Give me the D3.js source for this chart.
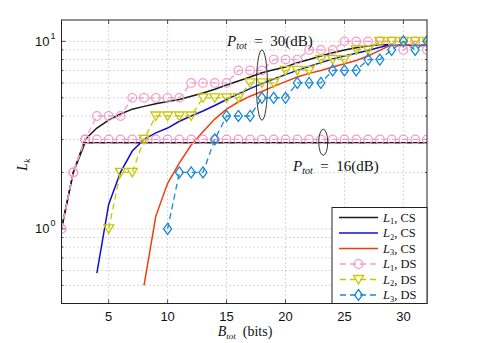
<!DOCTYPE html>
<html>
<head>
<meta charset="utf-8">
<script src="https://cdn.jsdelivr.net/npm/d3@7"></script>
<style>
  body { margin: 0; background: #fff; }
  svg { display: block; }
</style>
</head>
<body>
<div id="chart"></div>
<script>
// bits axis
const bits = [1, 2, 3, 4, 5, 6, 7, 8, 9, 10, 11, 12, 13, 14, 15, 16,
              17, 18, 19, 20, 21, 22, 23, 24, 25, 26, 27, 28, 29, 30, 31, 32];

// P_tot = 16 dB
const l1cs16 = [1, 2, 2.88, 2.88, 2.88, 2.88, 2.88, 2.88, 2.88, 2.88, 2.88, 2.88, 2.88, 2.88, 2.88, 2.88,
                2.88, 2.88, 2.88, 2.88, 2.88, 2.88, 2.88, 2.88, 2.88, 2.88, 2.88, 2.88, 2.88, 2.88, 2.88, 2.88];
const l1ds16 = [1, 2, 3, 3, 3, 3, 3, 3, 3, 3, 3, 3, 3, 3, 3, 3,
                3, 3, 3, 3, 3, 3, 3, 3, 3, 3, 3, 3, 3, 3, 3, 3];

// P_tot = 30 dB, continuous solution
const l1cs30 = [1, 2, 3.0, 3.45, 3.8, 4.1, 4.35, 4.5, 4.65, 4.78, 4.9, 5.1, 5.3, 5.55, 5.85, 6.15,
                6.45, 6.8, 7.05, 7.3, 7.7, 8.0, 8.35, 8.7, 9.0, 9.25, 9.45, 9.6, 9.6, 9.6, 9.6, 9.6];
const l2cs30 = [null, null, null, 0.58, 1.35, 2.0, 2.6, 3.0, 3.25, 3.45, 3.75, 4.0, 4.25, 4.55, 4.9, 5.25,
                5.6, 5.95, 6.3, 6.65, 7.0, 7.35, 7.7, 8.05, 8.35, 8.65, 8.95, 9.3, 9.6, 9.6, 9.6, 9.6];
const l3cs30 = [null, null, null, null, null, null, null, 0.5, 1.17, 1.75, 2.25, 2.8, 3.3, 3.85, 4.35, 4.75,
                5.1, 5.4, 5.75, 6.1, 6.45, 6.75, 7.0, 7.3, 7.6, 7.9, 8.35, 8.95, 9.6, 9.6, 9.6, 9.6];

// P_tot = 30 dB, discrete solution
const l1ds30 = [1, 2, 3, 4, 4, 4, 5, 5, 5, 5, 5, 6, 6, 6, 6, 7,
                7, 7, 8, 8, 8, 9, 9, 9, 10, 10, 10, 10, 10, 9, 10, 9];
const l2ds30 = [null, null, null, null, 1, 2, 2, 3, 4, 4, 4, 4, 5, 5, 5, 5,
                6, 6, 6, 7, 7, 7, 8, 8, 8, 9, 9, 10, 10, 10, 10, 10];
const l3ds30 = [null, null, null, null, null, null, null, null, null, 1, 2, 2, 2, 3, 4, 4,
                4, 5, 5, 5, 6, 6, 6, 7, 7, 7, 8, 8, 9, 10, 9, 10];

const xTicks = [5, 10, 15, 20, 25, 30];
const yMajor = [1, 10];
const yMinor = [0.5, 0.6, 0.7, 0.8, 0.9, 2, 3, 4, 5, 6, 7, 8, 9];

const colors = {
  black: "#1a1a1a",
  blue: "#1010d0",
  red: "#f03c10",
  pink: "#f79ac8",
  yellow: "#c8c800",
  cyan: "#1a8ad4"
};

const W = 485, H = 343;
const margin = { top: 20, right: 58, bottom: 39.5, left: 61.5 };

const svg = d3.select("#chart").append("svg")
  .attr("width", W).attr("height", H)
  .style("font-family", "'Liberation Sans', Arial, sans-serif");

const x = d3.scaleLinear().domain([1, 32]).range([margin.left, W - margin.right]);
const y = d3.scaleLog().domain([0.4, 13]).range([H - margin.bottom, margin.top]);

const x0 = x.range()[0], x1 = x.range()[1];
const y0 = y.range()[0], y1 = y.range()[1];

// grid
const grid = svg.append("g")
  .attr("stroke", "#9a9a9a").attr("stroke-width", 0.8)
  .attr("stroke-dasharray", "1,3");
xTicks.forEach(t => grid.append("line")
  .attr("x1", x(t)).attr("x2", x(t)).attr("y1", y0).attr("y2", y1));
yMajor.concat(yMinor).forEach(t => grid.append("line")
  .attr("x1", x0).attr("x2", x1).attr("y1", y(t)).attr("y2", y(t)));

// ticks inside the box
const ticks = svg.append("g").attr("stroke", "#222").attr("stroke-width", 0.8);
xTicks.forEach(t => {
  ticks.append("line").attr("x1", x(t)).attr("x2", x(t)).attr("y1", y0).attr("y2", y0 - 4);
  ticks.append("line").attr("x1", x(t)).attr("x2", x(t)).attr("y1", y1).attr("y2", y1 + 4);
});
yMajor.forEach(t => {
  ticks.append("line").attr("x1", x0).attr("x2", x0 + 4).attr("y1", y(t)).attr("y2", y(t));
  ticks.append("line").attr("x1", x1).attr("x2", x1 - 4).attr("y1", y(t)).attr("y2", y(t));
});
yMinor.forEach(t => {
  ticks.append("line").attr("x1", x0).attr("x2", x0 + 2).attr("y1", y(t)).attr("y2", y(t));
  ticks.append("line").attr("x1", x1).attr("x2", x1 - 2).attr("y1", y(t)).attr("y2", y(t));
});

// tick labels
svg.append("g").selectAll("text").data(xTicks).join("text")
  .attr("x", d => x(d)).attr("y", y0 + 17)
  .attr("text-anchor", "middle").attr("font-size", 13).attr("fill", "#111")
  .text(d => d);

yMajor.forEach(t => {
  svg.append("text")
    .attr("x", 49.5).attr("y", y(t) + 4.5)
    .attr("text-anchor", "end").attr("font-size", 13).attr("fill", "#111")
    .text("10");
  svg.append("text")
    .attr("x", 50.5).attr("y", y(t) - 2.5)
    .attr("font-size", 9).attr("fill", "#111")
    .text(Math.round(Math.log10(t)));
});

// clip for the curves
svg.append("clipPath").attr("id", "plotclip").append("rect")
  .attr("x", x0).attr("y", y1).attr("width", x1 - x0).attr("height", y0 - y1);

const plot = svg.append("g").attr("clip-path", "url(#plotclip)");

const line = d3.line()
  .defined(d => d[1] != null)
  .x(d => x(d[0])).y(d => y(d[1]));

function pts(vals) { return bits.map((b, i) => [b, vals[i]]); }

function drawCS(vals, color) {
  plot.append("path").datum(pts(vals))
    .attr("fill", "none").attr("stroke", color).attr("stroke-width", 1.5)
    .attr("d", line);
}

function marker(g, shape, color, cx, cy) {
  if (shape === "circle") {
    g.append("circle").attr("cx", cx).attr("cy", cy).attr("r", 4.3)
      .attr("fill", "none").attr("stroke", color).attr("stroke-width", 1.2);
  } else if (shape === "tri") {
    g.append("path")
      .attr("d", `M${cx - 5},${cy - 4} L${cx + 5},${cy - 4} L${cx},${cy + 4.5} Z`)
      .attr("fill", "none").attr("stroke", color).attr("stroke-width", 1.3);
  } else {
    g.append("path")
      .attr("d", `M${cx},${cy - 5.5} L${cx + 4},${cy} L${cx},${cy + 5.5} L${cx - 4},${cy} Z`)
      .attr("fill", "none").attr("stroke", color).attr("stroke-width", 1.3);
  }
}

function drawDS(vals, color, shape) {
  const p = pts(vals);
  plot.append("path").datum(p)
    .attr("fill", "none").attr("stroke", color).attr("stroke-width", 1.3)
    .attr("stroke-dasharray", "6,4")
    .attr("d", line);
  const g = plot.append("g");
  p.filter(d => d[1] != null).forEach(d => marker(g, shape, color, x(d[0]), y(d[1])));
}

drawCS(l1cs16, colors.black);
drawCS(l1cs30, colors.black);
drawCS(l2cs30, colors.blue);
drawCS(l3cs30, colors.red);
drawDS(l1ds16, colors.pink, "circle");
drawDS(l1ds30, colors.pink, "circle");
drawDS(l2ds30, colors.yellow, "tri");
drawDS(l3ds30, colors.cyan, "diamond");

// box
svg.append("rect")
  .attr("x", x0).attr("y", y1).attr("width", x1 - x0).attr("height", y0 - y1)
  .attr("fill", "none").attr("stroke", "#222").attr("stroke-width", 1);

// annotations
const serif = "'Liberation Serif', 'Times New Roman', serif";
svg.append("ellipse")
  .attr("cx", x(18)).attr("cy", (y(9) + y(3.8)) / 2)
  .attr("rx", 5.5).attr("ry", (y(3.8) - y(9)) / 2)
  .attr("fill", "none").attr("stroke", "#222").attr("stroke-width", 0.9);
svg.append("ellipse")
  .attr("cx", x(23.2)).attr("cy", (y(3.4) + y(2.47)) / 2)
  .attr("rx", 4.5).attr("ry", (y(2.47) - y(3.4)) / 2)
  .attr("fill", "none").attr("stroke", "#222").attr("stroke-width", 0.9);

function pLabel(px, py, value) {
  const t = svg.append("text").attr("x", px).attr("y", py)
    .attr("font-family", serif).attr("font-size", 15).attr("fill", "#111");
  t.append("tspan").attr("font-style", "italic").text("P");
  t.append("tspan").attr("font-style", "italic").attr("font-size", 10).attr("dy", 3).text("tot");
  t.append("tspan").attr("dy", -3).text("\u2002=\u2002" + value + "(dB)");
}
pLabel(227, 46, 30);
pLabel(293, 171, 16);

// axis labels
const xl = svg.append("text").attr("x", 245).attr("y", 336)
  .attr("text-anchor", "middle").attr("font-family", serif).attr("font-size", 14).attr("fill", "#111");
xl.append("tspan").attr("font-style", "italic").text("B");
xl.append("tspan").attr("font-style", "italic").attr("font-size", 9).attr("dy", 2.5).text("tot");
xl.append("tspan").attr("dy", -2.5).text("\u2002(bits)");

const yl = svg.append("text")
  .attr("transform", `translate(27,${(y0 + y1) / 2 + 3}) rotate(-90)`)
  .attr("text-anchor", "middle").attr("font-family", serif).attr("font-size", 14).attr("fill", "#111");
yl.append("tspan").attr("font-style", "italic").text("L");
yl.append("tspan").attr("font-style", "italic").attr("font-size", 9).attr("dy", 2.5).text("k");

// legend
const legendItems = [
  { k: 1, s: "CS", color: colors.black, shape: null },
  { k: 2, s: "CS", color: colors.blue, shape: null },
  { k: 3, s: "CS", color: colors.red, shape: null },
  { k: 1, s: "DS", color: colors.pink, shape: "circle" },
  { k: 2, s: "DS", color: colors.yellow, shape: "tri" },
  { k: 3, s: "DS", color: colors.cyan, shape: "diamond" }
];
const lg = svg.append("g");
lg.append("rect").attr("x", 332).attr("y", 207.5).attr("width", x1 - 332).attr("height", y0 - 207.5)
  .attr("fill", "#fff").attr("stroke", "#222").attr("stroke-width", 1);
legendItems.forEach((d, i) => {
  const ry = 217.5 + i * 15.5;
  const ln = lg.append("line").attr("x1", 339).attr("x2", 378).attr("y1", ry).attr("y2", ry)
    .attr("stroke", d.color).attr("stroke-width", d.shape ? 1.3 : 1.5);
  if (d.shape) {
    ln.attr("stroke-dasharray", "6,4").attr("stroke-dashoffset", -1);
    marker(lg, d.shape, d.color, 358.5, ry);
  }
  const t = lg.append("text").attr("x", 383).attr("y", ry + 4)
    .attr("font-family", serif).attr("font-size", 12.5).attr("fill", "#111");
  t.append("tspan").attr("font-style", "italic").text("L");
  t.append("tspan").attr("font-size", 8.5).attr("dy", 2.5).text(d.k);
  t.append("tspan").attr("dy", -2.5).text(", " + d.s);
});
</script>
</body>
</html>
